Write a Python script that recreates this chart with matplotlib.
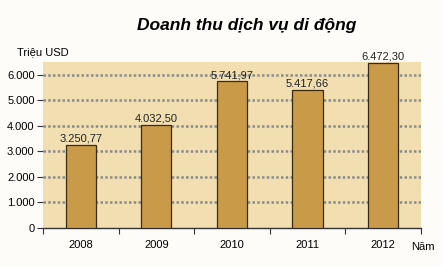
import matplotlib
matplotlib.use("Agg")
import matplotlib.pyplot as plt

years = ["2008", "2009", "2010", "2011", "2012"]
revenue = [3250.77, 4032.50, 5741.97, 5417.66, 6472.30]
value_labels = ["3.250,77", "4.032,50", "5.741,97", "5.417,66", "6.472,30"]
y_ticks = [0, 1000, 2000, 3000, 4000, 5000, 6000]
y_tick_labels = ["0", "1.000", "2.000", "3.000", "4.000", "5.000", "6.000"]

plt.rcParams['font.family'] = ['Liberation Sans', 'DejaVu Sans']

fig = plt.figure(figsize=(4.42, 2.66), dpi=100)
fig.patch.set_facecolor('#fdfcf8')
ax = fig.add_axes([0.0973, 0.143, 0.855, 0.624])
ax.set_facecolor('#f2dfb1')

x = list(range(len(years)))
ax.bar(x, revenue, width=0.4, color='#c99a48', edgecolor='#3a2a10', linewidth=0.9, zorder=3)
for xi, v, lab in zip(x, revenue, value_labels):
    ax.text(xi, v + 50, lab, ha='center', va='bottom', fontsize=8, color='#222222')

ax.set_xlim(-0.5, len(years) - 0.5)
ax.set_ylim(0, 6500)
ax.set_yticks(y_ticks)
ax.set_yticklabels(y_tick_labels, fontsize=8)
ax.set_xticks([i + 0.5 for i in range(-1, len(years))])
ax.set_xticklabels([])
ax.set_xticks(x, minor=True)
ax.set_xticklabels(years, minor=True, fontsize=8)
ax.tick_params(axis='x', which='minor', length=0, pad=9)
ax.tick_params(axis='x', which='major', length=4, direction='out', color='#333333')
ax.tick_params(axis='y', length=4, color='#333333', pad=2)

for y in y_ticks[1:]:
    ax.axhline(y, color='#8a8a8a', linewidth=1.8, linestyle=(0, (1, 0.9)), zorder=2)

for s in ['top', 'right', 'left']:
    ax.spines[s].set_visible(False)
ax.spines['bottom'].set_color('#333333')
ax.spines['bottom'].set_linewidth(1.0)

fig.text(0.038, 0.785, "Triệu USD", fontsize=8, ha='left', va='bottom')
fig.text(0.957, 0.07, "Năm", fontsize=8, ha='center', va='center')
fig.text(0.557, 0.905, "Doanh thu dịch vụ di động", fontsize=12.5, fontweight='bold',
         fontstyle='italic', ha='center', va='center')

fig.savefig("out.png", dpi=100, facecolor=fig.get_facecolor())
